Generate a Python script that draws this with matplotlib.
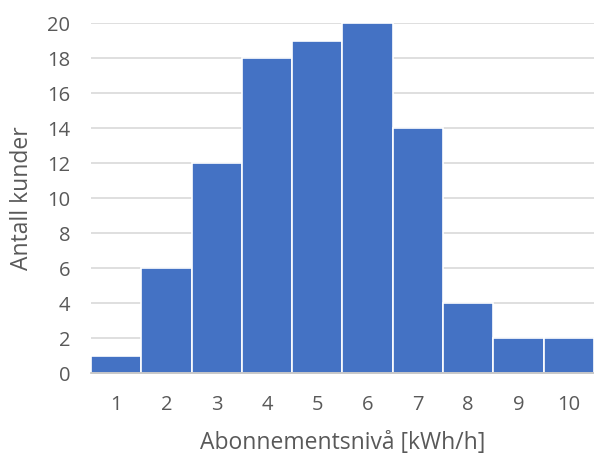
import matplotlib
matplotlib.use("Agg")
import matplotlib.pyplot as plt

# Subscription levels and number of customers per level
levels = ["1", "2", "3", "4", "5", "6", "7", "8", "9", "10"]
customers = [1, 6, 12, 18, 19, 20, 14, 4, 2, 2]
y_ticks = [0, 2, 4, 6, 8, 10, 12, 14, 16, 18, 20]

plt.rcParams["font.family"] = ["Open Sans", "DejaVu Sans"]
text_color = "#595959"

fig = plt.figure(figsize=(5.94, 4.54), dpi=100)
ax = fig.add_axes([0.153, 0.178, 0.847, 0.771])

x = range(len(levels))
ax.bar(x, customers, width=1.0, color="#4472C4", edgecolor="white",
       linewidth=1.2, zorder=3)

ax.set_xlim(-0.5, len(levels) - 0.5)
ax.set_ylim(0, 20)
ax.set_yticks(y_ticks)
ax.set_xticks(list(x))
ax.set_xticklabels(levels)

ax.grid(axis="y", color="#D9D9D9", linewidth=1.2, zorder=0)
for side in ("top", "right", "left"):
    ax.spines[side].set_visible(False)
ax.spines["bottom"].set_color("#BFBFBF")
ax.spines["bottom"].set_linewidth(1.2)
ax.spines["bottom"].set_zorder(4)

ax.tick_params(axis="both", length=0, labelsize=14.5, colors=text_color)
ax.tick_params(axis="x", pad=16)
ax.tick_params(axis="y", pad=15)

ax.set_xlabel("Abonnementsnivå [kWh/h]", fontsize=16.5, color=text_color, labelpad=11)
ax.set_ylabel("Antall kunder", fontsize=16.5, color=text_color, labelpad=9)

fig.savefig("out.png", dpi=100)
